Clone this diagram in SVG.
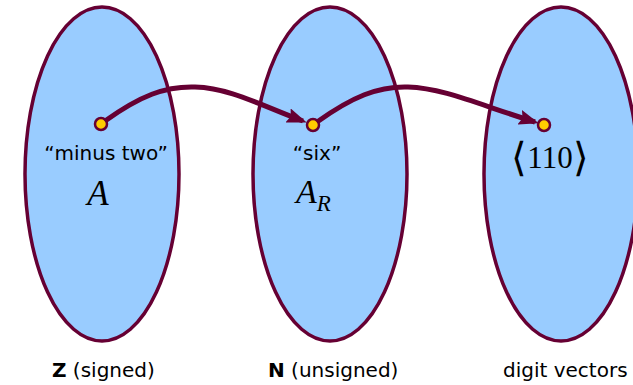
<svg xmlns="http://www.w3.org/2000/svg" width="633" height="385" viewBox="0 0 633 385">
<style>
.set{fill:#99ccff;stroke:#660033;stroke-width:3.5}
.dot{fill:#ffcc00;stroke:#660033;stroke-width:2.5}
.arr{fill:none;stroke:#660033;stroke-width:5;marker-end:url(#ah)}
.lbl{font-family:"DejaVu Sans",Verdana,sans-serif;font-size:20px;fill:#000}
.math{font-family:"Liberation Serif","Times New Roman",serif;fill:#000}
.brk{font-family:"DejaVu Sans",sans-serif;font-weight:200;font-size:40px}
</style>
<defs>
<marker id="ah" markerWidth="4" markerHeight="3" refX="3.2" refY="1.5" orient="auto" markerUnits="strokeWidth">
<path d="M0,0 L4,1.5 L0,3 L0.6,1.5 Z" fill="#660033"/>
</marker>
</defs>
<g id="set-z">
<ellipse class="set" cx="102" cy="174" rx="77" ry="167"/>
<circle class="dot" cx="101" cy="124" r="6"/>
<text class="lbl" x="106" y="160" text-anchor="middle">“minus two”</text>
<text class="math" x="98" y="205" font-size="35" font-style="italic" text-anchor="middle">A</text>
</g>
<g id="set-n">
<ellipse class="set" cx="330" cy="174" rx="77" ry="167"/>
<circle class="dot" cx="313" cy="125" r="6"/>
<text class="lbl" x="317" y="160" text-anchor="middle">“six”</text>
<text class="math" x="296" y="203" font-size="34" font-style="italic">A<tspan font-size="23" dy="8">R</tspan></text>
</g>
<g id="set-digits">
<ellipse class="set" cx="561" cy="174" rx="77" ry="167"/>
<circle class="dot" cx="544" cy="125" r="6"/>
<text class="math" x="550" y="168" font-size="31" text-anchor="middle"><tspan class="brk" dy="3">⟨</tspan><tspan dy="-3">110</tspan><tspan class="brk" dy="3">⟩</tspan></text>
</g>
<g id="labels">
<text class="lbl" x="52" y="377"><tspan font-weight="bold">Z</tspan> (signed)</text>
<text class="lbl" x="268" y="377"><tspan font-weight="bold">N</tspan> (unsigned)</text>
<text class="lbl" x="503" y="377">digit vectors</text>
</g>
<g id="connectors">
<path class="arr" d="M105,121 C140,96 165,86 195,87 C230,88 260,105 303,121"/>
<path class="arr" d="M317,122 C352,97 378,86 408,87 C443,88 480,105 535,122"/>
</g>
</svg>
